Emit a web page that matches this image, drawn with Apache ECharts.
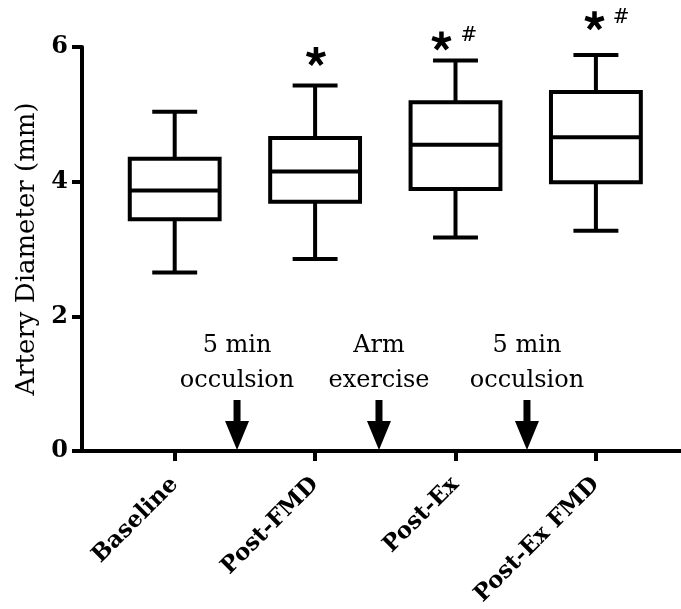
<!DOCTYPE html>
<html>
<head>
<meta charset="utf-8">
<script src="https://cdn.jsdelivr.net/npm/echarts@6/dist/echarts.min.js"></script>
<style>
html,body{margin:0;padding:0;background:#fff;}
#chart{width:681px;height:609px;}
</style>
</head>
<body>
<div id="chart"></div>
<script>
// ---- data ----
const categories = ['Baseline', 'Post-FMD', 'Post-Ex', 'Post-Ex FMD'];
const whiskerLow  = [2.65, 2.85, 3.17, 3.27];
const quartile1   = [3.44, 3.70, 3.89, 3.99];
const medians     = [3.87, 4.15, 4.55, 4.66];
const quartile3   = [4.34, 4.65, 5.18, 5.33];
const whiskerHigh = [5.04, 5.43, 5.80, 5.88];
const yTicks = [0, 2, 4, 6];
const yAxisTitle = 'Artery Diameter (mm)';
// interventions between measurements (x in category units, Baseline = 0)
const eventX = [0.444, 1.455, 2.509];
const eventLabels = ['5 min\nocculsion', 'Arm\nexercise', '5 min\nocculsion'];
// significance marks: [x in category units, y value]
const starMarks = [[1.006, 5.86], [1.90, 6.09], [2.99, 6.39]];
const hashMarks = [[2.096, 6.16], [3.18, 6.43]];

const boxData = categories.map((c, i) => [i, whiskerLow[i], quartile1[i], medians[i], quartile3[i], whiskerHigh[i]]);

const serif = 'DejaVu Serif';
const TOP = 47, BOTTOM = 158;
const Y0 = 82;               // y axis position
const BAND = 140.4;          // width of one category
const FIRST = 174.7;         // first category tick
const W = 681;
const LW = 4;

const arrowPath = 'path://M8.5,0 L15.5,0 L15.5,21 L24,21 L12,50 L0,21 L8.5,21 Z';
const starPath = 'path://M7.7,10 L12.3,10 L12.3,0 L7.7,0 Z' +
  ' M9.2893,7.8125 L10.7107,12.1875 L20.2217,9.0975 L18.8003,4.7225 Z' +
  ' M11.8607,8.6481 L8.1393,11.3519 L14.0173,19.4419 L17.7387,16.7381 Z' +
  ' M11.8607,11.3519 L8.1393,8.6481 L2.2613,16.7381 L5.9827,19.4419 Z' +
  ' M9.2893,12.1875 L10.7107,7.8125 L1.1997,4.7225 L-0.2217,9.0975 Z';

function renderBox(params, api) {
  const i = api.value(0);
  const band = api.size([1, 0])[0];
  const hb = band * 0.32;      // half box width
  const hc = hb / 2;           // half cap width
  const pLow = api.coord([i, api.value(1)]);
  const pQ1 = api.coord([i, api.value(2)]);
  const pMed = api.coord([i, api.value(3)]);
  const pQ3 = api.coord([i, api.value(4)]);
  const pHigh = api.coord([i, api.value(5)]);
  const cx = pMed[0];
  const st = {stroke: '#000', lineWidth: LW, fill: null};
  return {
    type: 'group',
    children: [
      {type: 'line', shape: {x1: cx, y1: pHigh[1], x2: cx, y2: pQ3[1]}, style: st},
      {type: 'line', shape: {x1: cx, y1: pQ1[1], x2: cx, y2: pLow[1]}, style: st},
      {type: 'line', shape: {x1: cx - hc, y1: pHigh[1], x2: cx + hc, y2: pHigh[1]}, style: st},
      {type: 'line', shape: {x1: cx - hc, y1: pLow[1], x2: cx + hc, y2: pLow[1]}, style: st},
      {type: 'rect', shape: {x: cx - hb, y: pQ3[1], width: 2 * hb, height: pQ1[1] - pQ3[1]},
        style: {stroke: '#000', lineWidth: LW, fill: '#fff'}},
      {type: 'line', shape: {x1: cx - hb, y1: pMed[1], x2: cx + hb, y2: pMed[1]}, style: st}
    ]
  };
}

const chart = echarts.init(document.getElementById('chart'), null, {renderer: 'canvas'});
chart.setOption({
  animation: false,
  backgroundColor: '#fff',
  grid: [
    {left: Y0, right: 0, top: TOP, bottom: BOTTOM, containLabel: false},
    {left: FIRST - BAND / 2, width: BAND * categories.length, top: TOP, bottom: BOTTOM, containLabel: false}
  ],
  xAxis: [
    {
      type: 'value', gridIndex: 0,
      min: -(FIRST - Y0) / BAND, max: (W - FIRST) / BAND,
      axisLine: {show: true, onZero: false, lineStyle: {color: '#000', width: LW}},
      axisTick: {show: false}, axisLabel: {show: false}, splitLine: {show: false}
    },
    {
      type: 'category', gridIndex: 1, data: categories, boundaryGap: true,
      axisLine: {show: false, onZero: false},
      axisTick: {show: true, alignWithLabel: true, length: 10, lineStyle: {color: '#000', width: LW}},
      axisLabel: {
        show: true, rotate: 45, margin: 30, interval: 0,
        fontFamily: serif, fontWeight: 'bold', fontSize: 23, color: '#000'
      },
      splitLine: {show: false}
    }
  ],
  yAxis: [
    {
      type: 'value', gridIndex: 0, min: 0, max: 6, interval: 2,
      name: yAxisTitle, nameLocation: 'middle', nameGap: 40, nameRotate: 90,
      nameTextStyle: {fontFamily: serif, fontSize: 26, color: '#000'},
      axisLine: {show: true, onZero: false, lineStyle: {color: '#000', width: LW}},
      axisTick: {show: true, length: 10, lineStyle: {color: '#000', width: LW}},
      axisLabel: {
        margin: 14, fontFamily: serif, fontWeight: 'bold', fontSize: 24, color: '#000',
        formatter: v => yTicks.indexOf(v) >= 0 ? String(v) : ''
      },
      splitLine: {show: false}
    },
    {
      type: 'value', gridIndex: 1, min: 0, max: 6, interval: 2,
      axisLine: {show: false, onZero: false}, axisTick: {show: false}, axisLabel: {show: false}, splitLine: {show: false}
    }
  ],
  series: [
    {
      type: 'custom', xAxisIndex: 1, yAxisIndex: 1,
      data: boxData,
      encode: {x: 0, y: [1, 2, 3, 4, 5]},
      renderItem: renderBox,
      silent: true
    },
    {
      type: 'scatter', xAxisIndex: 0, yAxisIndex: 0, clip: false, silent: true,
      data: eventX.map((x, i) => ({value: [x, 0], label: {formatter: eventLabels[i]}})),
      symbol: arrowPath, symbolSize: [24, 50], symbolOffset: [0, -26], symbolKeepAspect: false,
      itemStyle: {color: '#000', opacity: 1},
      label: {
        show: true, position: 'top', distance: 2,
        fontFamily: serif, fontSize: 24, lineHeight: 35, color: '#000', align: 'center'
      }
    },
    {
      type: 'scatter', xAxisIndex: 0, yAxisIndex: 0, clip: false, silent: true,
      data: starMarks,
      symbol: starPath, symbolSize: [20, 19], symbolKeepAspect: false,
      itemStyle: {color: '#000', opacity: 1}
    },
    {
      type: 'scatter', xAxisIndex: 0, yAxisIndex: 0, clip: false, silent: true,
      data: hashMarks,
      symbol: 'circle', symbolSize: 0,
      itemStyle: {opacity: 1},
      label: {show: true, position: 'inside', formatter: '#', fontFamily: serif, fontSize: 20, color: '#000'}
    }
  ]
});
</script>
</body>
</html>
